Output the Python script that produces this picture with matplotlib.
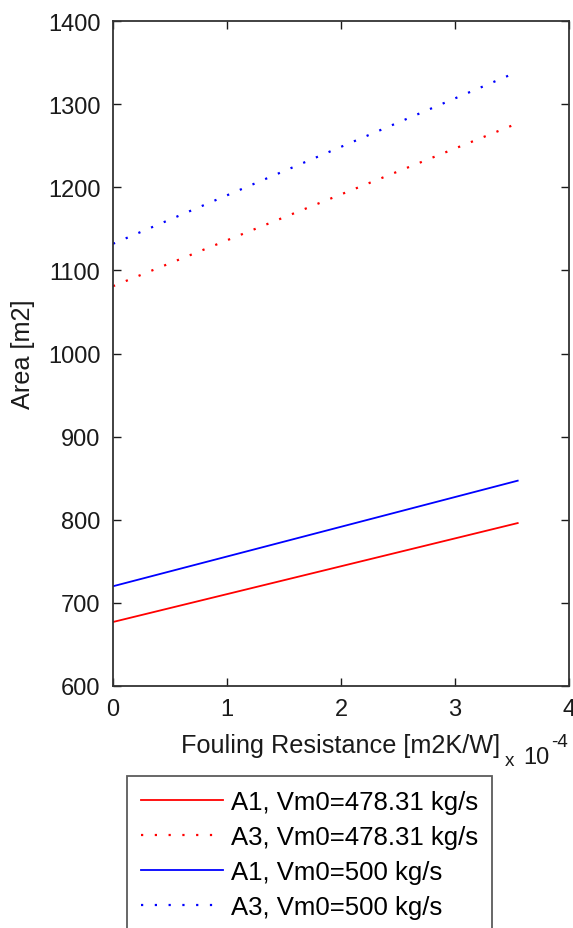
import matplotlib.pyplot as plt
from matplotlib.ticker import FuncFormatter, MultipleLocator

plt.rcParams['font.family'] = ['Liberation Sans', 'DejaVu Sans']

# fouling resistance [m2K/W], end points of each curve
fouling = [0.0, 3.55e-4]

# areas [m2]
a1_478 = [677, 796]
a3_478 = [1081, 1277]
a1_500 = [720, 847]
a3_500 = [1132, 1339]

labels = [
    "A1, Vm0=478.31 kg/s",
    "A3, Vm0=478.31 kg/s",
    "A1, Vm0=500 kg/s",
    "A3, Vm0=500 kg/s",
]

fs = 17
fs_lab = 18.2
fs_leg = 18.5
dots = (0, (1, 5.2))

fig = plt.figure(figsize=(5.73, 9.29), dpi=100)
ax = fig.add_axes([0.1972, 0.2605, 0.7958, 0.7158])

ax.plot(fouling, a1_478, color=(1, 0, 0), lw=1.3, label=labels[0])
ax.plot(fouling, a3_478, color=(1, 0, 0), lw=1.6, linestyle=dots, label=labels[1])
ax.plot(fouling, a1_500, color=(0, 0, 1), lw=1.3, label=labels[2])
ax.plot(fouling, a3_500, color=(0, 0, 1), lw=1.6, linestyle=dots, label=labels[3])

ax.set_xlim(0, 4e-4)
ax.set_ylim(600, 1400)
ax.xaxis.set_major_locator(MultipleLocator(1e-4))
ax.yaxis.set_major_locator(MultipleLocator(100))
ax.xaxis.set_major_formatter(FuncFormatter(lambda v, p: "%g" % round(v / 1e-4, 6)))

ax.tick_params(direction="in", length=6, width=1, top=True, right=True,
               labelsize=fs, colors="#1a1a1a")
ax.tick_params(axis="x", pad=9)
ax.tick_params(axis="y", pad=9)
for s in ax.spines.values():
    s.set_linewidth(1.3)
    s.set_color("#333333")

ax.set_xlabel("Fouling Resistance [m2K/W]", fontsize=fs_lab, color="#1a1a1a", labelpad=9)
ax.set_ylabel("Area [m2]", fontsize=fs_lab, color="#1a1a1a", labelpad=9)

# MATLAB style exponent label
fig.text(505 / 573, 1 - 766 / 929, "x", fontsize=fs * 0.8, color="#1a1a1a")
fig.text(523 / 573, 1 - 764 / 929, "10", fontsize=fs, color="#1a1a1a")
fig.text(551 / 573, 1 - 747 / 929, "-4", fontsize=fs * 0.8, color="#1a1a1a")

leg = fig.legend(loc="upper left", bbox_to_anchor=(127 / 573, 1 - 777 / 929),
                 fontsize=fs_leg, frameon=True, fancybox=False, handlelength=3.2,
                 handletextpad=0.3, labelspacing=0.42, borderpad=0.55,
                 borderaxespad=0)
leg.get_frame().set_edgecolor("#333333")
leg.get_frame().set_linewidth(1.3)

fig.savefig("out.png", dpi=100)
